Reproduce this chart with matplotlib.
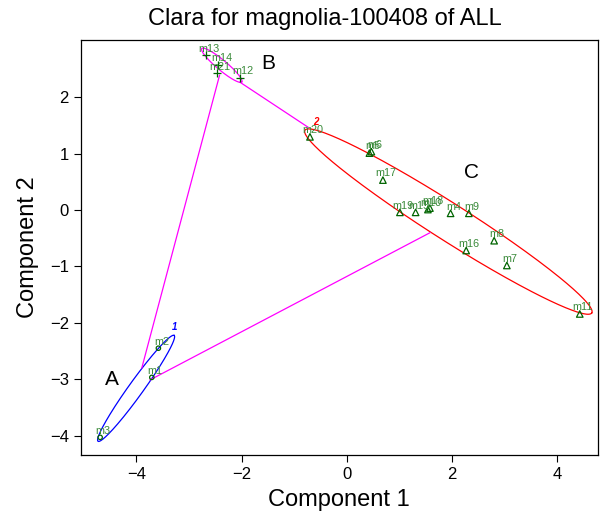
"""Clusplot de clara (3 grupos) sobre las dos primeras componentes."""

import matplotlib
matplotlib.use("Agg")
import matplotlib.pyplot as plt
import numpy as np

plt.rcParams["font.family"] = ["Liberation Sans", "DejaVu Sans"]

# puntos por grupo (componente 1, componente 2)
names_a = ["m1", "m2", "m3"]
x_a = [-3.707, -3.582, -4.690]
y_a = [-2.965, -2.448, -4.027]

names_b = ["m13", "m14", "m21", "m12"]
x_b = [-2.68, -2.44, -2.47, -2.03]
y_b = [2.74, 2.57, 2.42, 2.34]

names_c = ["m20", "m5", "m6", "m17", "m19", "m15", "m10", "m18",
           "m4", "m9", "m8", "m16", "m7", "m11"]
x_c = [-0.698, 0.433, 0.471, 0.690, 1.013, 1.312, 1.546, 1.584,
       1.977, 2.325, 2.806, 2.274, 3.048, 4.435]
y_c = [1.297, 1.009, 1.035, 0.531, -0.041, -0.041, 0.009, 0.035,
       -0.058, -0.058, -0.543, -0.717, -0.982, -1.841]

# elipses: centro y dos semidiametros conjugados
ell_center = {"A": (-4.006, -3.159), "B": (-2.376, 2.566), "C": (1.935, -0.204)}
ell_axis1 = {"A": (0.724, 0.938), "B": (0.380, -0.296), "C": (2.728, -1.619)}
ell_axis2 = {"A": (0.113, -0.075), "B": (-0.061, -0.068), "C": (-0.189, -0.276)}
ell_color = {"A": "blue", "B": "magenta", "C": "red"}

# segmentos de distancia entre elipses (A-B, A-C, B-C)
seg_x0 = [-3.897, -3.740, -2.029]
seg_y0 = [-2.796, -3.009, 2.265]
seg_x1 = [-2.418, 1.584, -0.736]
seg_y1 = [2.389, -0.402, 1.469]

# letras de grupo y numeros de elipse
group_letters = ["A", "B", "C"]
letter_x = [-4.46, -1.50, 2.38]
letter_y = [-3.01, 2.60, 0.673]
ell_numbers = ["1", "2"]
number_x = [-3.28, -0.583]
number_y = [-2.07, 1.558]
number_colors = ["blue", "red"]

fig = plt.figure(figsize=(6.0, 5.14), dpi=100)
ax = fig.add_axes([0.1345, 0.1148, 0.862, 0.807])

t = np.linspace(0, 2 * np.pi, 300)
for key in ["A", "B", "C"]:
    cx, cy = ell_center[key]
    a = ell_axis1[key]
    b = ell_axis2[key]
    ex = cx + np.cos(t) * a[0] + np.sin(t) * b[0]
    ey = cy + np.cos(t) * a[1] + np.sin(t) * b[1]
    ax.plot(ex, ey, color=ell_color[key], linewidth=0.9)

for i in range(len(seg_x0)):
    ax.plot([seg_x0[i], seg_x1[i]], [seg_y0[i], seg_y1[i]],
            color="magenta", linewidth=0.9)

pt_color = "darkgreen"
ax.scatter(x_a, y_a, s=10, facecolors="none", edgecolors=pt_color,
           linewidths=0.9, zorder=4)
ax.scatter(x_b, y_b, s=34, marker="+", color=pt_color, linewidths=0.9,
           zorder=4)
ax.scatter(x_c, y_c, s=22, marker="^", facecolors="none",
           edgecolors=pt_color, linewidths=0.9, zorder=4)

for names, xs, ys in [(names_a, x_a, y_a), (names_b, x_b, y_b),
                      (names_c, x_c, y_c)]:
    for n, px, py in zip(names, xs, ys):
        ax.annotate(n, (px, py), xytext=(2.2, 4.8), textcoords="offset points",
                    ha="center", va="center", fontsize=7.8,
                    color="#3a8a3a", zorder=5)

for lab, lx, ly in zip(group_letters, letter_x, letter_y):
    ax.text(lx, ly, lab, fontsize=15, ha="center", va="center")

for lab, nx, ny, c in zip(ell_numbers, number_x, number_y, number_colors):
    ax.text(nx, ny, lab, fontsize=7, ha="center", va="center", color=c,
            fontweight="bold", fontstyle="italic")

ax.set_xlim(-5.06, 4.78)
ax.set_ylim(-4.34, 3.01)
ax.set_xticks([-4, -2, 0, 2, 4])
ax.set_yticks([-4, -3, -2, -1, 0, 1, 2])
ax.set_xticklabels(["\u22124", "\u22122", "0", "2", "4"])
ax.set_yticklabels(["\u22124", "\u22123", "\u22122", "\u22121", "0", "1", "2"])
ax.tick_params(direction="out", length=5, width=0.8, labelsize=12)
for sp in ax.spines.values():
    sp.set_linewidth(0.9)

ax.set_xlabel("Component 1", fontsize=17, labelpad=5)
ax.set_ylabel("Component 2", fontsize=17, labelpad=8)
ax.set_title("Clara for magnolia-100408 of ALL", fontsize=17, pad=11,
             x=0.472)

fig.savefig("out.png", dpi=100)
